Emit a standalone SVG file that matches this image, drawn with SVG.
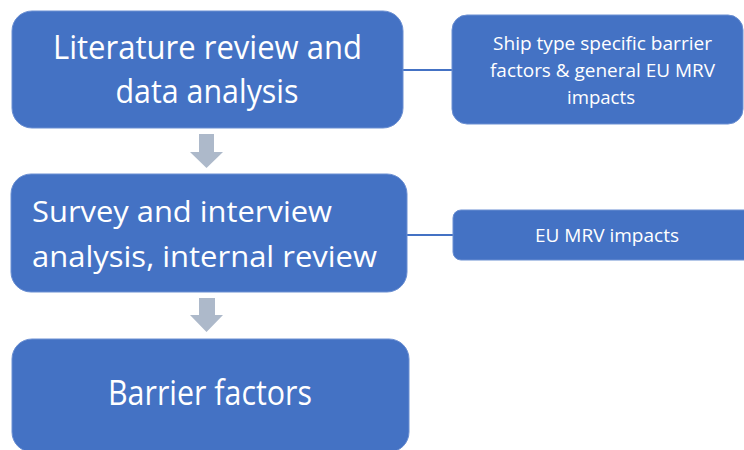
<svg xmlns="http://www.w3.org/2000/svg" width="744" height="450" viewBox="0 0 744 450">
<style>
.box{fill:#4472C4;stroke:#6B8FD2;stroke-width:1}
.t{font-family:"Open Sans","Noto Sans",sans-serif;fill:#ffffff}
.arrow{fill:#ADB9CA}
.conn{stroke:#4472C4;stroke-width:2;fill:none}
</style>
<rect width="744" height="450" fill="#ffffff"/>
<g id="connectors">
<line class="conn" x1="403" y1="70" x2="452" y2="70"/>
<line class="conn" x1="407" y1="235" x2="453" y2="235"/>
<path class="arrow" d="M199,134 H214 V152 H223 L206.5,168 L190,152 H199 Z"/>
<path class="arrow" d="M199,298 H215 V315 H223 L206.5,332 L190,315 H199 Z"/>
</g>
<g id="node-literature">
<rect class="box" x="12" y="11" width="391" height="117" rx="20"/>
<text class="t" font-size="32" x="207.5" y="59" text-anchor="middle" textLength="309" lengthAdjust="spacingAndGlyphs">Literature review and</text>
<text class="t" font-size="32" x="207" y="103" text-anchor="middle" textLength="183" lengthAdjust="spacingAndGlyphs">data analysis</text>
</g>
<g id="node-shiptype">
<rect class="box" x="452" y="15" width="291" height="109" rx="15"/>
<text class="t" font-size="18.5" x="602.5" y="50" text-anchor="middle" textLength="219" lengthAdjust="spacingAndGlyphs">Ship type specific barrier</text>
<text class="t" font-size="18.5" x="602.5" y="77" text-anchor="middle" textLength="225" lengthAdjust="spacingAndGlyphs">factors &amp; general EU MRV</text>
<text class="t" font-size="18.5" x="601" y="104" text-anchor="middle" textLength="68" lengthAdjust="spacingAndGlyphs">impacts</text>
</g>
<g id="node-survey">
<rect class="box" x="11" y="174" width="396" height="118" rx="20"/>
<text class="t" font-size="29" x="32" y="222" textLength="300" lengthAdjust="spacingAndGlyphs">Survey and interview</text>
<text class="t" font-size="29" x="32" y="267" textLength="345" lengthAdjust="spacingAndGlyphs">analysis, internal review</text>
</g>
<g id="node-eumrv">
<rect class="box" x="453" y="210" width="300" height="50" rx="8"/>
<text class="t" font-size="18" x="535" y="242" textLength="144" lengthAdjust="spacingAndGlyphs">EU MRV impacts</text>
</g>
<g id="node-barrier">
<rect class="box" x="12" y="339" width="397" height="113" rx="20"/>
<text class="t" font-size="34" x="108" y="405" textLength="204" lengthAdjust="spacingAndGlyphs">Barrier factors</text>
</g>
</svg>
